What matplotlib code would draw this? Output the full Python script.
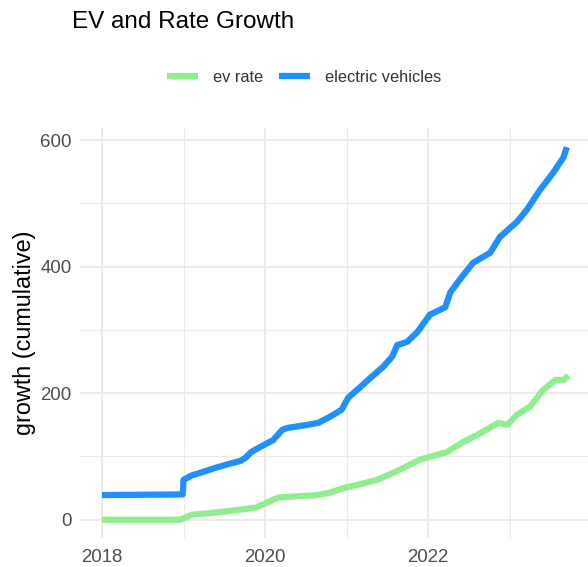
import numpy as np
import matplotlib.pyplot as plt

# decimal years and cumulative values
ev_years = [2018.00, 2018.99, 2019.00, 2019.10, 2019.25, 2019.39, 2019.55, 2019.70,
            2019.76, 2019.83, 2019.94, 2020.10, 2020.21, 2020.27, 2020.52, 2020.65,
            2020.80, 2020.94, 2021.02, 2021.17, 2021.29, 2021.45, 2021.56, 2021.62,
            2021.74, 2021.87, 2022.02, 2022.21, 2022.27, 2022.39, 2022.55, 2022.76,
            2022.88, 2023.09, 2023.21, 2023.37, 2023.53, 2023.66, 2023.70]
ev_values = [39, 40, 63, 70, 76, 82, 88, 93,
             98, 107, 115, 126, 142, 145, 150, 153,
             163, 174, 193, 210, 224, 242, 258, 276,
             281, 297, 324, 336, 359, 380, 406, 422,
             447, 471, 490, 521, 548, 573, 589]

rate_years = [2018.00, 2018.95, 2019.00, 2019.10, 2019.30, 2019.50, 2019.70, 2019.88,
              2020.04, 2020.16, 2020.40, 2020.64, 2020.80, 2020.96, 2021.16, 2021.37,
              2021.50, 2021.65, 2021.90, 2022.23, 2022.43, 2022.60, 2022.86, 2022.97,
              2023.09, 2023.25, 2023.41, 2023.56, 2023.66, 2023.72]
rate_values = [0, 0, 2, 8, 10, 13, 16, 19,
               28, 35, 37, 39, 43, 50, 56, 63,
               70, 79, 95, 107, 123, 134, 153, 150,
               166, 179, 205, 221, 221, 228]

plt.rcParams['font.family'] = ['Liberation Sans', 'DejaVu Sans']

fig = plt.figure(figsize=(5.88, 5.67), dpi=100)
ax = fig.add_axes([0.136, 0.051, 0.864, 0.723])

ax.plot(rate_years, rate_values, color='#90EE90', lw=4.5, label='ev rate', solid_capstyle='butt')
ax.plot(ev_years, ev_values, color='#1E90FF', lw=4.5, label='electric vehicles', solid_capstyle='butt')

ax.set_xlim(2017.73, 2023.96)
ax.set_ylim(-29, 619)
ax.set_xticks([2018, 2020, 2022])
ax.set_xticks([2019, 2021, 2023], minor=True)
ax.set_yticks([0, 200, 400, 600])
ax.set_yticks([100, 300, 500], minor=True)
ax.grid(which='major', color='#ebebeb', lw=1.4)
ax.grid(which='minor', color='#ebebeb', lw=0.8)
ax.set_axisbelow(True)
for s in ax.spines.values():
    s.set_visible(False)
ax.tick_params(which='both', length=0, labelsize=13.4, labelcolor='#4d4d4d')
ax.tick_params(axis='x', pad=8)
ax.tick_params(axis='y', pad=6)
ax.set_ylabel('growth (cumulative)', fontsize=16.8, color='black', labelpad=3)

fig.text(0.122, 0.962, 'EV and Rate Growth', fontsize=17.5, va='center', ha='left')
fig.legend(loc='center', bbox_to_anchor=(0.517, 0.864), ncol=2, frameon=False,
           fontsize=11.8, handlelength=1.9, handletextpad=0.9, columnspacing=1.0,
           labelcolor='#333333')

fig.savefig('out.png', dpi=100)
